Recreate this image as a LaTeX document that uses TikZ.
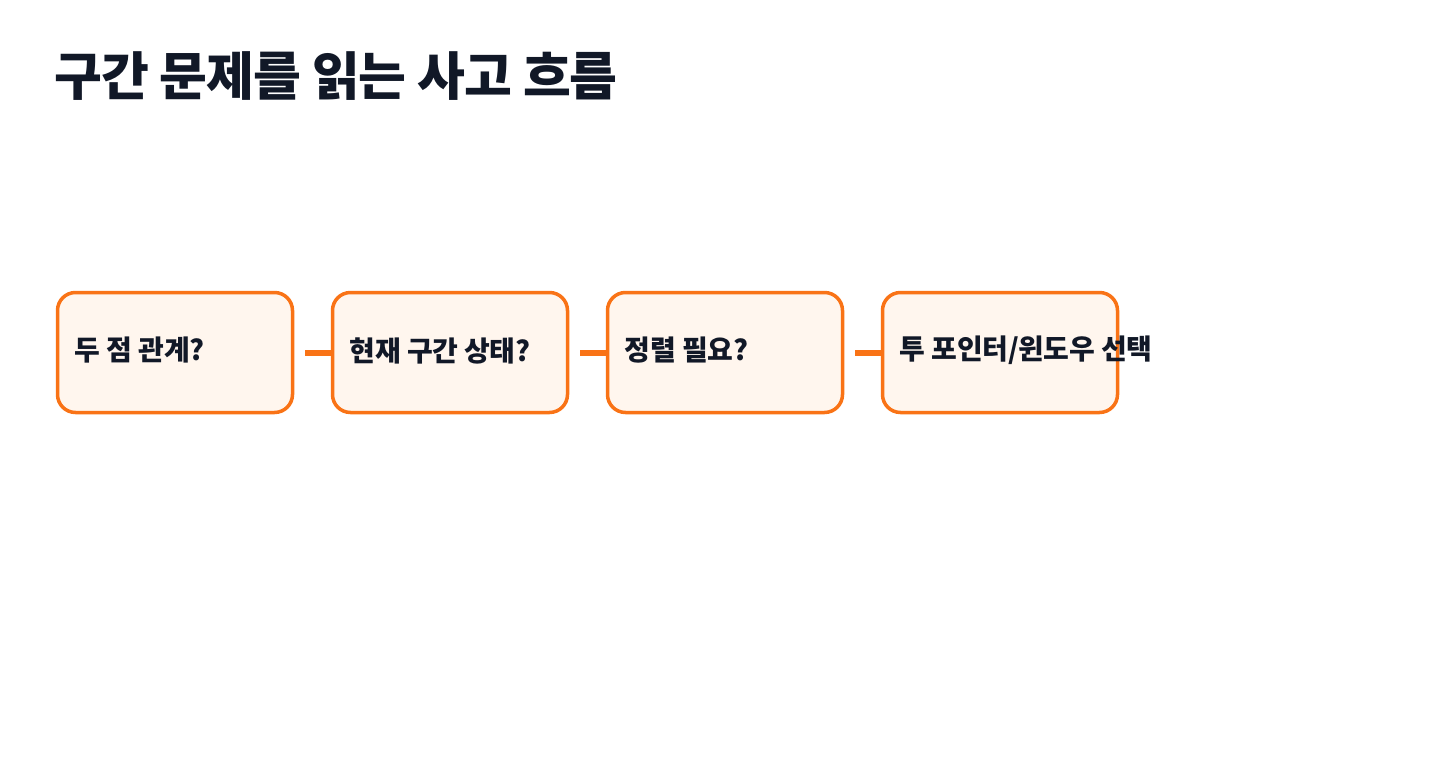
\documentclass[tikz,border=0pt]{standalone}
\usepackage{fontspec}
\newfontfamily\krtitle{Noto Sans CJK KR}[LetterSpace=-2]
\newfontfamily\kr{Noto Sans CJK KR}[LetterSpace=-1.2]
\usetikzlibrary{calc}
\definecolor{ink}{HTML}{111827}
\definecolor{accent}{HTML}{F97316}
\definecolor{boxfill}{HTML}{FFF6EE}
\begin{document}
\begin{tikzpicture}[x=1pt,y=-1pt,
  stepbox/.style={draw=accent, line width=3.5pt, fill=boxfill, rounded corners=18pt,
    minimum width=235pt, minimum height=120pt, inner sep=0pt},
  lbl/.style={text=ink, font=\kr\bfseries\fontsize{28}{32}\selectfont, anchor=west, inner sep=0pt},
  conn/.style={draw=accent, line width=6pt, shorten <=11pt}]
\useasboundingbox (0,0) rectangle (1450,760);
\node[text=ink, font=\krtitle\bfseries\fontsize{52}{60}\selectfont, anchor=west, inner sep=0pt] (title) at (54,76) {구간 문제를 읽는 사고 흐름};
\node[stepbox] (b1) at (175,352.5) {};
\node[stepbox] (b2) at (450,352.5) {};
\node[stepbox] (b3) at (725,352.5) {};
\node[stepbox] (b4) at (1000,352.5) {};
\draw[conn] (b1) -- (b2);
\draw[conn] (b2) -- (b3);
\draw[conn] (b3) -- (b4);
\node[lbl] (t1) at ($(b1.west)+(19,-2)$) {두 점 관계?};
\node[lbl] (t2) at ($(b2.west)+(19,-2)$) {현재 구간 상태?};
\node[lbl] (t3) at ($(b3.west)+(19,-2)$) {정렬 필요?};
\node[lbl] (t4) at ($(b4.west)+(19,-2)$) {투 포인터/윈도우 선택};
\end{tikzpicture}
\end{document}
